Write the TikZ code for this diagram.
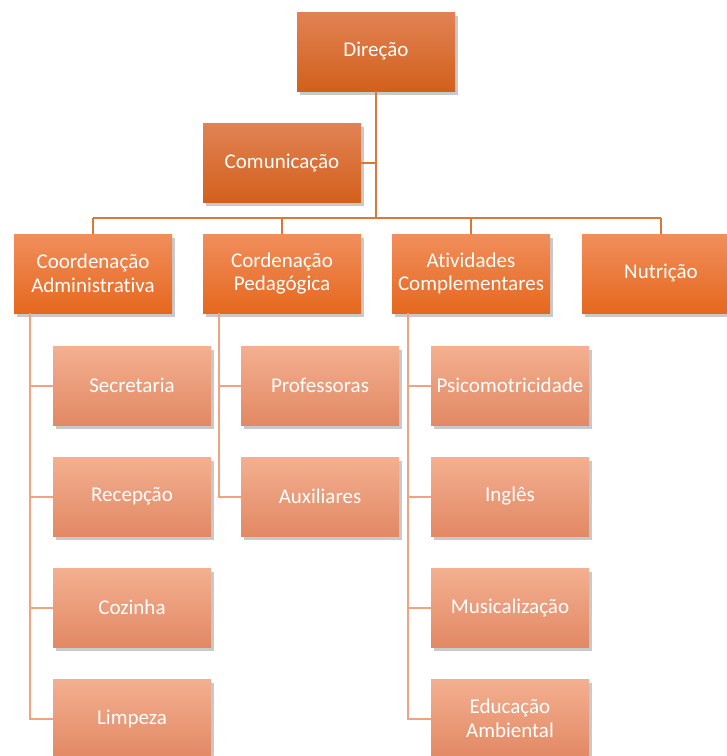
\documentclass[tikz,border=0pt]{standalone}
\usepackage{fontspec}
\setmainfont[Ligatures=NoCommon]{Carlito}
\usetikzlibrary{shadows}
\definecolor{aTop}{RGB}{225,130,84}
\definecolor{aBot}{RGB}{210,96,28}
\definecolor{bTop}{RGB}{241,142,92}
\definecolor{bBot}{RGB}{229,104,30}
\definecolor{cTop}{RGB}{243,176,144}
\definecolor{cBot}{RGB}{226,136,100}
\definecolor{lineA}{RGB}{218,120,60}
\definecolor{lineC}{RGB}{241,162,126}
\tikzset{
  box/.style={rectangle, minimum width=158pt, minimum height=79pt, inner sep=0pt,
    text=white, align=center, font=\fontsize{21}{23.5}\selectfont,
    drop shadow={shadow xshift=2.5pt, shadow yshift=-3.5pt, opacity=0.3, fill=black!70}},
  lvA/.style={box, top color=aTop, bottom color=aBot},
  lvB/.style={box, top color=bTop, bottom color=bBot},
  lvC/.style={box, top color=cTop, bottom color=cBot},
  conA/.style={draw=lineA, line width=2pt},
  conC/.style={draw=lineC, line width=2pt},
}
\begin{document}
\begin{tikzpicture}[x=1pt,y=-1pt]
\useasboundingbox (0,0) rectangle (727,756);
\coordinate (bus) at (376,218);
\coordinate (busL) at (93,218);
\coordinate (busR) at (661,218);
\node[lvA] (dir) at (376,51.5) {Direção};
\node[lvA] (com) at (282,163) {Comunicação};
\node[lvB] (adm) at (93,273.5) {Coordenação\\Administrativa};
\node[lvB] (ped) at (282,273.5) {Cordenação\\Pedagógica};
\node[lvB] (ati) at (471,273.5) {Atividades\\Complementares};
\node[lvB] (nut) at (661,273.5) {Nutrição};
\node[lvC] (sec) at (132,385.5) {Secretaria};
\node[lvC] (rec) at (132,496.5) {Recepção};
\node[lvC] (coz) at (132,607.5) {Cozinha};
\node[lvC] (lim) at (132,718.5) {Limpeza};
\node[lvC] (pro) at (320,385.5) {Professoras};
\node[lvC] (aux) at (320,496.5) {Auxiliares};
\node[lvC] (psi) at (510,385.5) {Psicomotricidade};
\node[lvC] (ing) at (510,496.5) {Inglês};
\node[lvC] (mus) at (510,607.5) {Musicalização};
\node[lvC] (edu) at (510,718.5) {Educação\\Ambiental};
% level-1 connectors
\draw[conA] (dir.south) -- (bus);
\draw[conA] (com.east) -- (com.east -| dir.south);
\draw[conA] (busL) -- (busR);
\draw[conA] (busL) -- (adm.north);
\draw[conA] (ped.north |- bus) -- (ped.north);
\draw[conA] (ati.north |- bus) -- (ati.north);
\draw[conA] (busR) -- (nut.north);
% level-3 connectors
\coordinate (admS) at ([xshift=-63pt]adm.south);
\coordinate (pedS) at ([xshift=-63pt]ped.south);
\coordinate (atiS) at ([xshift=-63pt]ati.south);
\draw[conC] (admS) |- (sec.west);
\draw[conC] (admS) |- (rec.west);
\draw[conC] (admS) |- (coz.west);
\draw[conC] (admS) |- (lim.west);
\draw[conC] (pedS) |- (pro.west);
\draw[conC] (pedS) |- (aux.west);
\draw[conC] (atiS) |- (psi.west);
\draw[conC] (atiS) |- (ing.west);
\draw[conC] (atiS) |- (mus.west);
\draw[conC] (atiS) |- (edu.west);
\end{tikzpicture}
\end{document}
